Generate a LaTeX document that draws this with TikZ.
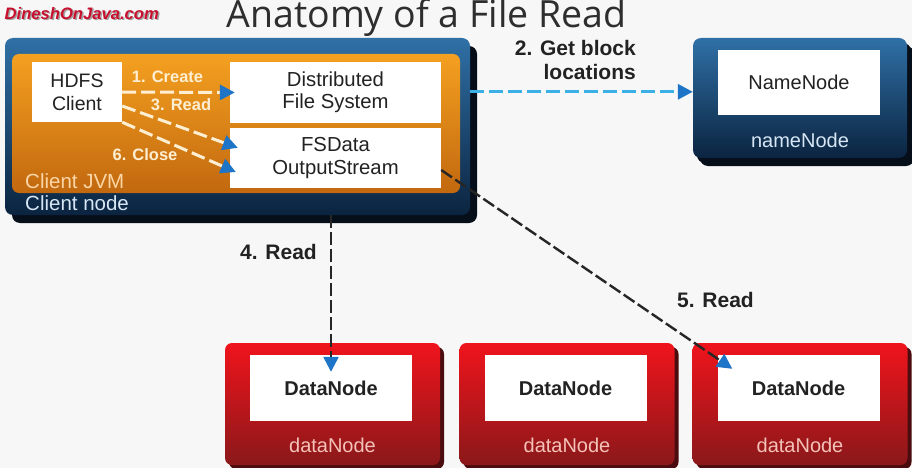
\documentclass[tikz,border=0pt]{standalone}
\usepackage{fontspec}
\setmainfont{Liberation Sans}
\newfontfamily\titlefont{Open Sans}
\usetikzlibrary{arrows.meta,shadows,calc}
\definecolor{bgc}{HTML}{F7F7F7}
\definecolor{cnTop}{HTML}{2F70A6}
\definecolor{cnBot}{HTML}{0B2440}
\definecolor{cnShadow}{HTML}{060E1A}
\definecolor{orTop}{HTML}{F4A020}
\definecolor{orBot}{HTML}{C2680F}
\definecolor{rdTop}{HTML}{F0141C}
\definecolor{rdBot}{HTML}{8A181A}
\definecolor{rdShadow}{HTML}{4A0C0E}
\definecolor{arrowblue}{HTML}{1E74C6}
\definecolor{lineblue}{HTML}{3AB0E6}
\definecolor{txt}{HTML}{222222}
\definecolor{cream}{HTML}{FFEFD2}
\definecolor{jvmtxt}{HTML}{FAD6A6}
\definecolor{bluetxt}{HTML}{D6E6F4}
\definecolor{pinktxt}{HTML}{F4C2B8}
\definecolor{wmark}{HTML}{C8102E}
\begin{document}
\begin{tikzpicture}[x=1pt,y=-1pt,
  bluebox/.style={rounded corners=8pt, inner sep=0pt, top color=cnTop, bottom color=cnBot,
    general shadow={shadow xshift=7pt, shadow yshift=-8pt, fill=cnShadow}},
  jvmbox/.style={rounded corners=7pt, inner sep=0pt, top color=orTop, bottom color=orBot},
  redbox/.style={rounded corners=7pt, inner sep=0pt, top color=rdTop, bottom color=rdBot,
    general shadow={shadow xshift=4pt, shadow yshift=-4pt, fill=rdShadow}},
  whitebox/.style={fill=white, inner sep=0pt, align=center, text=txt,
    font=\fontsize{20.3}{22.5}\selectfont},
  boldbox/.style={whitebox, font=\fontsize{20}{22}\selectfont\bfseries},
  steplabel/.style={text=cream, font=\fontsize{16.5}{18}\selectfont\bfseries, inner sep=0pt},
  outlabel/.style={text=txt, font=\fontsize{21}{24}\selectfont\bfseries, inner sep=0pt},
  boxname/.style={font=\fontsize{20.5}{22}\selectfont, inner sep=0pt},
  wdash/.style={draw=cream, line width=3pt, dash pattern=on 14pt off 5pt},
  bdash/.style={draw=lineblue, line width=3pt, dash pattern=on 14pt off 5pt},
  kdash/.style={draw=black!85, line width=2.4pt, dash pattern=on 13pt off 4pt},
  tip/.style={-{Triangle[length=15pt,width=15pt,color=arrowblue]}}
]
\fill[bgc] (0,0) rectangle (912,468);
\useasboundingbox (0,0) rectangle (912,468);

% watermark and title
\node[anchor=west, inner sep=0pt, text=black!70, opacity=0.5,
  font=\fontsize{16.6}{17}\selectfont\bfseries\itshape] (wms) at (6,14.8) {DineshOnJava.com};
\node[anchor=west, inner sep=0pt, text=wmark,
  font=\fontsize{16.6}{17}\selectfont\bfseries\itshape] (wm) at (4.5,13.5) {DineshOnJava.com};
\node[anchor=base, inner sep=0pt, text=black!82, font=\titlefont\fontsize{37.5}{40}\selectfont] (title) at (426.5,28) {Anatomy of a File Read};

% client node
\node[bluebox, minimum width=465pt, minimum height=177pt] (cn) at (237.5,126.5) {};
\node[jvmbox, minimum width=448pt, minimum height=139pt] (jvm) at (236,123.5) {};
\node[whitebox, minimum width=90pt, minimum height=60pt, font=\fontsize{19.5}{23}\selectfont] (hdfs) at (77,92) {HDFS\\Client};
\node[whitebox, minimum width=211pt, minimum height=61pt] (dfs) at (335.5,92.5) {Distributed\\File System};
\node[whitebox, minimum width=211pt, minimum height=60pt] (fs) at (335.5,158) {FSData\\OutputStream};
\node[boxname, anchor=west, text=jvmtxt] (jvml) at (25,181.5) {Client JVM};
\node[boxname, anchor=west, text=bluetxt] (cnl) at (25,203.5) {Client node};

% name node
\node[bluebox, minimum width=214pt, minimum height=120pt,
  general shadow={shadow xshift=4pt, shadow yshift=-5pt, fill=cnShadow}] (nn) at (800,98) {};
\node[whitebox, minimum width=162pt, minimum height=65pt, font=\fontsize{20}{22}\selectfont] (nnw) at (799,82.5) {NameNode};
\node[boxname, text=bluetxt, font=\fontsize{20}{22}\selectfont] (nnl) at (800,140) {nameNode};

% data nodes
\foreach \i/\x in {1/332.5,2/567,3/800}{
  \node[redbox, minimum width=215pt, minimum height=122pt] (dn\i) at (\x,404) {};
  \node[boldbox, minimum width=162pt, minimum height=66pt] (d\i) at ($(dn\i)+(-1.5,-16)$) {DataNode};
  \node[boxname, text=pinktxt, font=\fontsize{20}{22}\selectfont] (dl\i) at ($(dn\i)+(0,41)$) {dataNode};
}

% connectors inside client JVM
\draw[wdash, tip] (hdfs.east) -- ($(dfs.west)+(5,0)$);
\draw[wdash, tip] ($(hdfs.east)+(0,14)$) -- ($(fs.north west)+(8,20)$);
\draw[wdash, tip] (hdfs.south east) -- ($(fs.west)+(6,14)$);
\node[steplabel] (l1) at (167.5,77) {1. Create};
\node[steplabel] (l3) at (181,105) {3. Read};
\node[steplabel] (l6) at (145,155) {6. Close};

% get block locations
\draw[bdash, tip] ($(cn.north east)+(0,54)$) -- ($(nn.north west)+(0,54)$);
\node[outlabel, anchor=east, align=right] (l2) at (636,60) {2. Get block\\locations};

% reads from data nodes
\draw[kdash, tip] (d1.north |- cn.south) -- ($(d1.north)+(0,17)$);
\node[outlabel] (l4) at (278.5,252) {4. Read};
\draw[kdash, tip] ($(fs.east)+(0,12)$) -- ($(d3.north west)+(15,14)$);
\node[outlabel] (l5) at (715.5,300) {5. Read};
\end{tikzpicture}
\end{document}
